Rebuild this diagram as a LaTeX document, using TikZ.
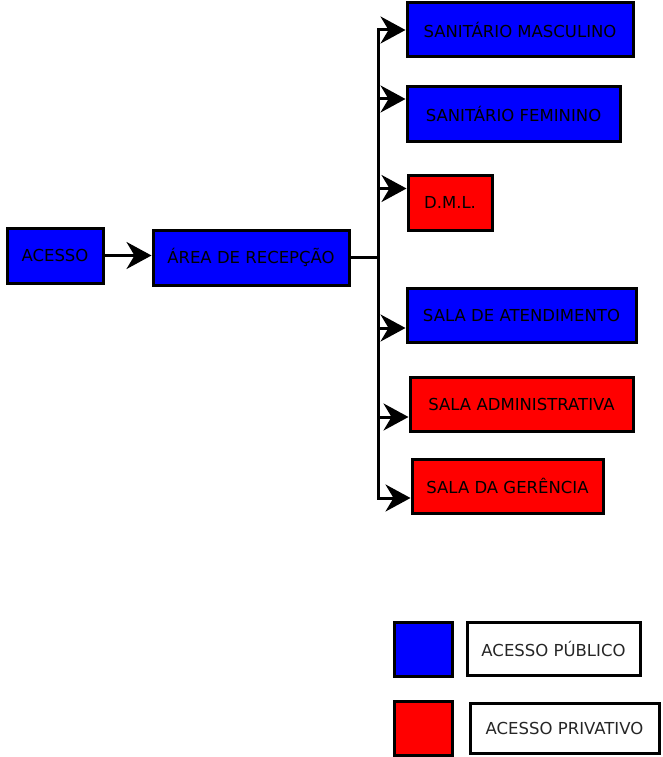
\documentclass[tikz,border=0pt]{standalone}
\usepackage{fontspec}
\setmainfont{DejaVu Sans}
\usetikzlibrary{arrows.meta}
\definecolor{pubblue}{RGB}{0,0,255}
\definecolor{privred}{RGB}{255,0,0}
\begin{document}
\begin{tikzpicture}[x=1pt,y=-1pt,
  room/.style={draw=black,line width=3pt,inner sep=0pt,
    font=\fontsize{16.5}{19}\selectfont,text=black},
  pub/.style={room,fill=pubblue},
  priv/.style={room,fill=privred},
  keybox/.style={draw=black,line width=3pt,inner sep=0pt,fill=white,
    font=\fontsize{16.5}{19}\selectfont,text=black!85},
  flow/.style={line width=3pt,-{Stealth[length=25pt,width=27pt,inset=8pt]}},
  link/.style={line width=3pt}]
  \useasboundingbox (0,0) rectangle (662,757);

  % entrance and reception
  \node[pub,minimum width=96pt,minimum height=55pt] (acesso) at (55,255.5) {ACESSO};
  \node[pub,minimum width=196pt,minimum height=55pt] (recepcao) at (251,257.5) {ÁREA DE RECEPÇÃO};

  % rooms served by the reception
  \node[pub,minimum width=226pt,minimum height=54pt] (sm) at (520,30) {SANITÁRIO MASCULINO};
  \node[pub,minimum width=213pt,minimum height=54pt] (sf) at (513.5,114) {SANITÁRIO FEMININO};
  \node[priv,minimum width=84pt,minimum height=55pt] (dml) at (450,202.5) {D.M.L.};
  \node[pub,minimum width=229pt,minimum height=54pt] (atend) at (521.5,315) {SALA DE ATENDIMENTO};
  \node[priv,minimum width=223pt,minimum height=54pt] (adm) at (521.5,404) {SALA ADMINISTRATIVA};
  \node[priv,minimum width=191pt,minimum height=54pt] (ger) at (507.5,486) {SALA DA GERÊNCIA};

  % legend
  \node[pub,minimum width=58pt,minimum height=54pt] (kpub) at (423,649) {};
  \node[keybox,minimum width=173pt,minimum height=53pt] (tpub) at (553.5,648.5) {ACESSO PÚBLICO};
  \node[priv,minimum width=58pt,minimum height=54pt] (kpriv) at (423,728) {};
  \node[keybox,minimum width=189pt,minimum height=50pt] (tpriv) at (564.5,728) {ACESSO PRIVATIVO};

  % connectors
  \coordinate (junction) at (378,257);
  \draw[flow] (acesso.east) -- (acesso.east -| recepcao.west);
  \draw[link] (recepcao.east |- junction) -- (junction);
  \draw[flow] (junction) |- (sm.west);
  \draw[flow] (junction) |- ([yshift=15pt]sf.west);
  \draw[flow] (junction) |- ([yshift=14pt]dml.west);
  \draw[flow] (junction) |- ([yshift=-13pt]atend.west);
  \draw[flow] (junction) |- ([yshift=-13pt]adm.west);
  \draw[flow] (junction) |- ([yshift=-12pt]ger.west);
\end{tikzpicture}
\end{document}
